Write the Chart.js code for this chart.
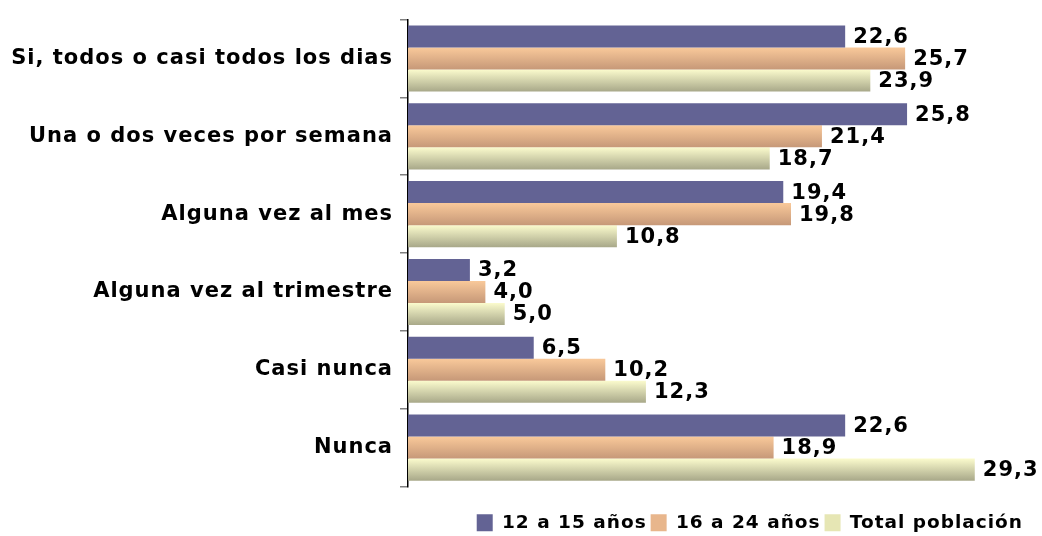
<!DOCTYPE html>
<html lang="es">
<head>
<meta charset="UTF-8">
<title>Frecuencia</title>
<script src="https://cdn.jsdelivr.net/npm/chart.js"></script>
<style>
  html, body { margin: 0; padding: 0; background: #fff; }
  #wrap { width: 1042px; height: 536px; }
</style>
</head>
<body>
<div id="wrap"><canvas id="myChart"></canvas></div>
<script>
const categories = ['Si, todos o casi todos los dias', 'Una o dos veces por semana', 'Alguna vez al mes',
                    'Alguna vez al trimestre', 'Casi nunca', 'Nunca'];
const seriesNames = ['12 a 15 años', '16 a 24 años', 'Total población'];
const edad12a15 = [22.6, 25.8, 19.4, 3.2, 6.5, 22.6];
const edad16a24 = [25.7, 21.4, 19.8, 4.0, 10.2, 18.9];
const totalPoblacion = [23.9, 18.7, 10.8, 5.0, 12.3, 29.3];

const FONT = '"Comic Sans MS", "DejaVu Sans", sans-serif';
// solid colour, gradient top, gradient bottom
const palette = [
  ['#636394', '#636394', '#636394'],
  ['#e8b68c', '#f9c99a', '#c69878'],
  ['#e6e6b4', '#fbfbcd', '#a8a889']
];

// the original font is wider, spread the letters a bit
const spacing = {
  id: 'spacing',
  beforeLayout(chart) { chart.ctx.letterSpacing = '1px'; },
  beforeDraw(chart) { chart.ctx.letterSpacing = '1px'; }
};

// gradient per bar, computed once bars have their positions
const gradientBars = {
  id: 'gradientBars',
  beforeDatasetsDraw(chart) {
    const ctx = chart.ctx;
    chart.data.datasets.forEach((ds, i) => {
      chart.getDatasetMeta(i).data.forEach(bar => {
        const top = bar.y - bar.height / 2, bot = bar.y + bar.height / 2;
        const g = ctx.createLinearGradient(0, top, 0, bot);
        g.addColorStop(0, palette[i][1]);
        g.addColorStop(1, palette[i][2]);
        bar.options = Object.assign({}, bar.options, {backgroundColor: g});
      });
    });
  }
};

const valueLabels = {
  id: 'valueLabels',
  afterDatasetsDraw(chart) {
    const ctx = chart.ctx;
    ctx.save();
    ctx.font = 'bold 21px ' + FONT;
    ctx.fillStyle = '#000';
    ctx.textBaseline = 'middle';
    ctx.textAlign = 'left';
    chart.data.datasets.forEach((ds, i) => {
      chart.getDatasetMeta(i).data.forEach((bar, j) => {
        ctx.fillText(ds.data[j].toFixed(1).replace('.', ','), bar.x + 8, bar.y + 1);
      });
    });
    ctx.restore();
  }
};

const data = {
  labels: categories,
  datasets: [edad12a15, edad16a24, totalPoblacion].map((vals, i) => ({
    label: seriesNames[i],
    data: vals,
    backgroundColor: palette[i][0],
    borderWidth: 0,
    categoryPercentage: 0.85,
    barPercentage: 1.0
  }))
};

new Chart(document.getElementById('myChart'), {
  type: 'bar',
  data: data,
  plugins: [spacing, gradientBars, valueLabels],
  options: {
    indexAxis: 'y',
    responsive: true,
    maintainAspectRatio: false,
    animation: false,
    layout: { padding: { top: 18, right: 15, left: 0, bottom: -6 } },
    scales: {
      x: {
        min: 0,
        max: 32,
        afterFit(s) { s.height = 23; },
        grid: { display: false },
        border: { display: false },
        ticks: { display: false }
      },
      y: {
        afterFit(s) { s.width = 408; },
        grid: {
          drawOnChartArea: false,
          tickLength: 8,
          color: '#808080',
          lineWidth: 1.5
        },
        border: { color: '#000', width: 1.5 },
        ticks: {
          padding: 7,
          color: '#000',
          font: { family: FONT, size: 21, weight: 'bold' }
        }
      }
    },
    plugins: {
      tooltip: { enabled: false },
      legend: {
        position: 'bottom',
        align: 'end',
        labels: {
          boxWidth: 16,
          boxHeight: 17,
          padding: 4,
          color: '#000',
          font: { family: FONT, size: 18.5, weight: 'bold' },
          generateLabels(chart) {
            return seriesNames.map((n, i) => ({
              text: n,
              fillStyle: palette[i][0],
              strokeStyle: palette[i][0],
              lineWidth: 0,
              datasetIndex: i
            }));
          }
        }
      }
    }
  }
});
</script>
</body>
</html>
